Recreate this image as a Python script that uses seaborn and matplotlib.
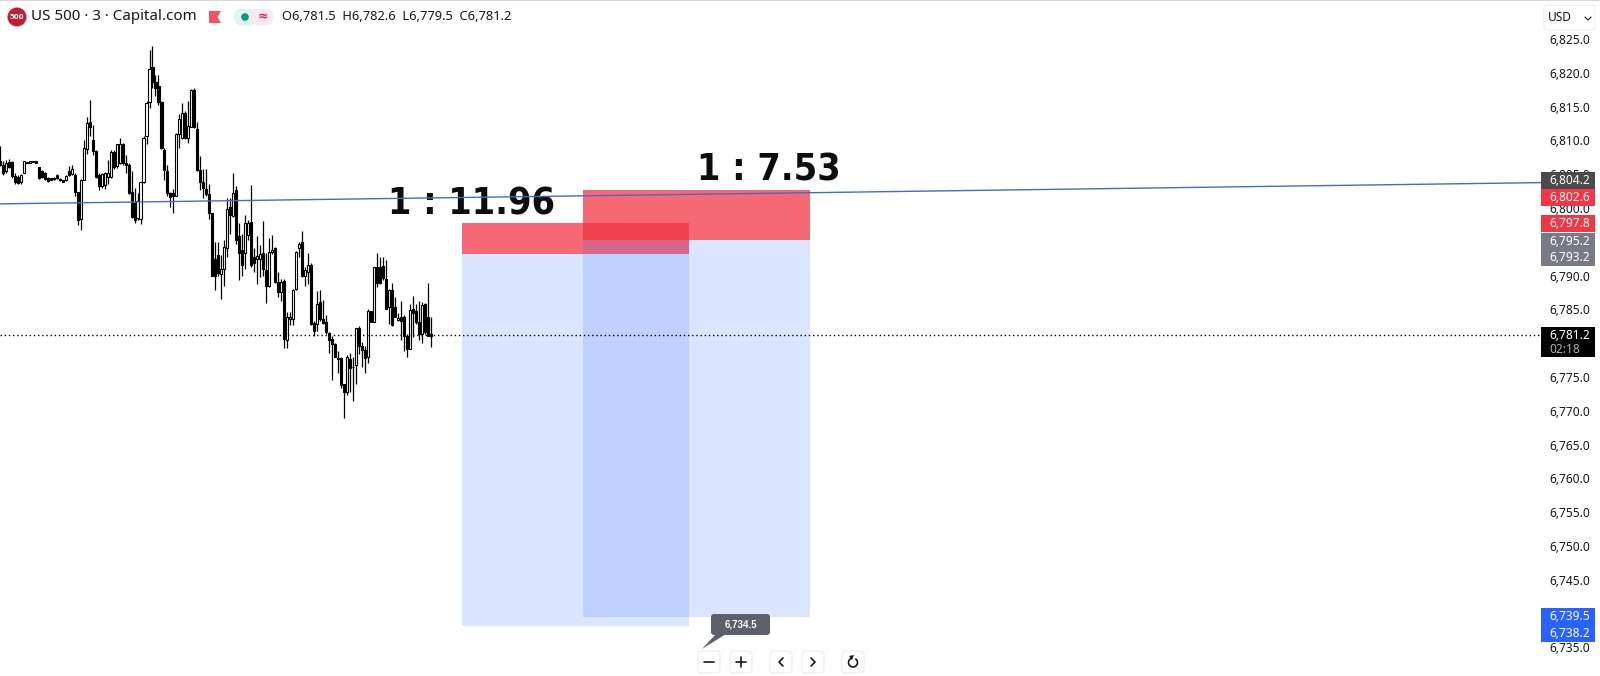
import matplotlib
matplotlib.use("Agg")
import matplotlib.pyplot as plt
import numpy as np
import pandas as pd
import seaborn as sns
from matplotlib.patches import Rectangle, FancyBboxPatch, Circle, Polygon
from matplotlib.transforms import blended_transform_factory

# candles
opens = [6806.9, 6806.4, 6805.4, 6806.8, 6806.8, 6804.7, 6804.6, 6803.8, 6805.2, 6806.6,
         6806.7, 6806.8, 6807.0, 6806.1, 6805.4, 6805.2, 6804.4, 6804.4, 6804.5, 6804.9,
         6804.3, 6804.2, 6804.1, 6805.5, 6805.0, 6804.8, 6802.3, 6798.3, 6804.2, 6808.7,
         6812.7, 6810.1, 6808.4, 6804.8, 6803.3, 6803.4, 6804.6, 6804.6, 6808.3, 6806.2,
         6806.7, 6809.5, 6806.6, 6806.4, 6802.4, 6800.7, 6798.5, 6798.3, 6803.8, 6810.6,
         6815.7, 6820.8, 6818.6, 6818.0, 6815.7, 6808.5, 6805.5, 6802.2, 6802.2, 6801.8,
         6810.9, 6810.4, 6814.1, 6810.4, 6812.0, 6817.5, 6811.7, 6805.6, 6803.9, 6802.8,
         6802.1, 6799.2, 6792.5, 6793.1, 6790.3, 6790.9, 6794.0, 6800.2, 6798.8, 6802.6,
         6795.8, 6793.8, 6793.3, 6796.0, 6797.9, 6792.8, 6792.4, 6792.4, 6793.3, 6790.8,
         6788.5, 6793.5, 6794.0, 6789.1, 6787.6, 6789.2, 6780.5, 6783.6, 6783.6, 6788.0,
         6794.0, 6794.9, 6790.0, 6790.5, 6791.6, 6783.0, 6782.8, 6786.1, 6783.6, 6783.1,
         6781.5, 6780.6, 6779.9, 6777.8, 6777.8, 6773.9, 6772.8, 6777.6, 6776.4, 6776.8,
         6782.2, 6779.6, 6779.0, 6777.9, 6784.7, 6783.2, 6791.3, 6791.3, 6791.4, 6789.5,
         6785.3, 6787.8, 6785.3, 6783.4, 6783.8, 6783.9, 6781.1, 6779.2, 6785.1, 6784.8,
         6783.2, 6781.4, 6785.8, 6783.9, 6781.3]
highs = [6809.1, 6806.9, 6807.1, 6807.2, 6806.9, 6805.1, 6804.8, 6805.0, 6807.0, 6806.8,
         6806.9, 6807.0, 6807.0, 6806.1, 6805.6, 6805.3, 6804.6, 6804.5, 6804.6, 6805.0,
         6804.4, 6804.2, 6804.8, 6806.2, 6806.4, 6805.1, 6802.4, 6804.3, 6810.1, 6813.4,
         6815.9, 6812.3, 6808.5, 6805.1, 6805.2, 6805.3, 6807.1, 6808.5, 6808.6, 6809.4,
         6810.4, 6809.6, 6807.9, 6806.6, 6805.4, 6802.9, 6802.2, 6803.9, 6810.6, 6815.8,
         6823.3, 6824.0, 6819.6, 6819.7, 6815.8, 6808.9, 6806.4, 6802.4, 6802.8, 6811.1,
         6813.9, 6815.5, 6814.3, 6815.8, 6817.6, 6817.8, 6812.7, 6807.7, 6805.7, 6805.7,
         6803.6, 6799.3, 6795.0, 6795.0, 6793.0, 6795.2, 6801.4, 6801.4, 6805.2, 6803.3,
         6797.7, 6796.2, 6799.0, 6798.2, 6803.4, 6794.0, 6795.8, 6794.5, 6798.1, 6793.3,
         6795.6, 6796.0, 6794.2, 6790.5, 6789.5, 6789.5, 6784.6, 6784.6, 6788.0, 6793.6,
         6795.0, 6796.6, 6791.3, 6793.3, 6791.8, 6783.3, 6787.7, 6787.8, 6786.4, 6784.2,
         6781.6, 6781.1, 6780.0, 6778.9, 6777.9, 6774.0, 6778.2, 6778.5, 6777.9, 6782.3,
         6782.6, 6780.1, 6779.6, 6785.1, 6784.8, 6791.3, 6793.4, 6792.8, 6792.8, 6792.3,
         6788.0, 6788.9, 6786.8, 6784.4, 6786.3, 6784.2, 6781.3, 6785.8, 6786.9, 6785.8,
         6786.3, 6786.1, 6785.9, 6788.9, 6783.8]
lows = [6806.2, 6804.8, 6805.2, 6805.9, 6804.4, 6803.6, 6803.6, 6803.6, 6805.1, 6806.6,
        6806.7, 6806.8, 6806.6, 6804.3, 6804.4, 6804.2, 6803.9, 6804.1, 6804.2, 6804.3,
        6804.0, 6803.8, 6804.0, 6804.7, 6804.9, 6801.7, 6797.5, 6796.7, 6804.1, 6808.0,
        6810.6, 6807.9, 6804.4, 6802.7, 6802.9, 6802.8, 6803.6, 6804.4, 6805.8, 6805.9,
        6806.5, 6806.4, 6805.1, 6802.1, 6798.5, 6797.8, 6798.2, 6797.6, 6803.7, 6809.4,
        6814.8, 6817.8, 6816.6, 6815.3, 6808.7, 6804.2, 6801.7, 6800.2, 6799.3, 6801.7,
        6808.9, 6810.2, 6810.2, 6809.6, 6811.9, 6811.8, 6805.5, 6802.7, 6801.5, 6801.7,
        6798.3, 6789.9, 6787.8, 6790.0, 6786.6, 6788.5, 6792.8, 6796.2, 6798.7, 6794.7,
        6789.3, 6790.0, 6791.0, 6795.2, 6791.3, 6790.5, 6788.8, 6789.8, 6790.0, 6785.9,
        6788.3, 6793.2, 6788.9, 6786.8, 6786.2, 6779.3, 6779.3, 6782.7, 6782.7, 6787.9,
        6792.8, 6789.8, 6788.5, 6788.7, 6782.7, 6781.1, 6781.8, 6783.3, 6782.8, 6781.3,
        6778.5, 6774.5, 6777.9, 6775.6, 6773.4, 6768.9, 6772.3, 6772.7, 6771.5, 6773.9,
        6778.4, 6776.4, 6775.6, 6777.1, 6783.1, 6783.1, 6788.3, 6788.8, 6789.4, 6785.0,
        6782.8, 6782.6, 6783.8, 6783.3, 6780.4, 6778.9, 6777.9, 6779.1, 6780.9, 6782.8,
        6780.4, 6780.0, 6781.3, 6781.1, 6779.4]
closes = [6806.4, 6805.1, 6806.7, 6806.1, 6804.7, 6803.8, 6803.7, 6804.9, 6806.9, 6806.8,
          6806.9, 6806.9, 6806.6, 6804.4, 6804.6, 6804.3, 6804.0, 6804.2, 6804.3, 6804.4,
          6804.1, 6803.9, 6804.7, 6804.8, 6805.8, 6802.4, 6798.2, 6804.2, 6808.9, 6812.6,
          6812.0, 6808.4, 6804.6, 6803.3, 6805.0, 6805.2, 6805.2, 6808.3, 6806.1, 6809.4,
          6809.4, 6806.7, 6806.3, 6802.2, 6798.6, 6798.2, 6801.0, 6803.8, 6810.4, 6815.5,
          6820.5, 6818.7, 6817.8, 6815.6, 6808.9, 6805.6, 6802.2, 6801.6, 6801.8, 6811.0,
          6813.2, 6814.1, 6810.4, 6812.1, 6817.5, 6811.9, 6805.6, 6803.8, 6802.9, 6802.1,
          6799.3, 6790.0, 6790.0, 6790.4, 6791.0, 6794.2, 6799.9, 6799.0, 6802.2, 6795.3,
          6793.4, 6791.5, 6797.7, 6797.7, 6791.5, 6791.8, 6792.9, 6793.2, 6791.0, 6788.5,
          6793.5, 6793.8, 6789.0, 6787.6, 6789.1, 6780.6, 6783.9, 6783.9, 6787.9, 6793.5,
          6794.6, 6789.9, 6790.8, 6791.5, 6782.9, 6781.8, 6785.8, 6783.6, 6783.0, 6781.6,
          6780.4, 6779.9, 6778.0, 6777.7, 6773.8, 6772.8, 6778.0, 6776.3, 6776.5, 6782.2,
          6779.6, 6779.0, 6777.8, 6784.8, 6783.2, 6791.2, 6788.9, 6788.9, 6789.7, 6785.1,
          6787.8, 6782.7, 6783.9, 6783.7, 6783.3, 6781.1, 6779.2, 6784.9, 6784.4, 6783.2,
          6781.4, 6785.7, 6781.6, 6781.1, 6781.1]

price_ticks = [6730, 6735, 6740, 6745, 6750, 6755, 6760, 6765, 6770, 6775, 6780, 6785,
               6790, 6795, 6800, 6805, 6810, 6815, 6820, 6825]
trend_x = [0, 516]
trend_y = [6800.6, 6803.75]
last_price = 6781.2

# the two short positions: bar start, bar end, stop, entry, target, ratio label
pos_start = [154.4, 194.9]
pos_end = [230.4, 270.9]
pos_stop = [6797.8, 6802.6]
pos_entry = [6793.2, 6795.2]
pos_target = [6738.2, 6739.5]
pos_ratio = ["1 : 11.96", "1 : 7.53"]
ratio_bar = [129.8, 233.1]
ratio_price = [6798.96, 6804.12]

tag_text = ["6,804.2", "6,802.6", "6,797.8", "6,795.2", "6,793.2", "6,739.5", "6,738.2"]
tag_price = [6804.1, 6801.6, 6797.7, 6795.1, 6792.6, 6739.6, 6737.1]
tag_color = ["#4a4a4a", "#f23645", "#f23645", "#787b86", "#787b86", "#2962ff", "#2962ff"]

W, H = 1600, 676
PLOT_W = 1542
sns.set_theme(style="white")
plt.rcParams["font.family"] = ["Noto Sans", "DejaVu Sans"]

fig = plt.figure(figsize=(W / 100, H / 100), dpi=100, facecolor="white")
ax = fig.add_axes([0, 0, PLOT_W / W, 1])

df = pd.DataFrame({"bar": np.arange(len(opens)), "o": opens, "h": highs, "l": lows, "c": closes})
df["top"] = df[["o", "c"]].max(axis=1)
df["bottom"] = df[["o", "c"]].min(axis=1)
df["size"] = df["top"] - df["bottom"]

ax.vlines(df["bar"], df["l"], df["h"], color="black", lw=0.9, zorder=2)
for up, face in [(True, "white"), (False, "black")]:
    part = df[(df["c"] >= df["o"]) == up]
    sns.barplot(data=part, x="bar", y="size", bottom=part["bottom"].values, native_scale=True,
                ax=ax, color=face, edgecolor="black", linewidth=0.8, width=0.7,
                saturation=1, errorbar=None, zorder=3)

# position boxes
for s, e, stop, entry, target in zip(pos_start, pos_end, pos_stop, pos_entry, pos_target):
    ax.add_patch(Rectangle((s, entry), e - s, stop - entry, fc="#f23645", ec="none", alpha=0.75, zorder=4))
    ax.add_patch(Rectangle((s, target), e - s, entry - target, fc="#2962ff", ec="none", alpha=0.16, zorder=4))

for x, p, label in zip(ratio_bar, ratio_price, pos_ratio):
    ax.text(x, p, label, fontsize=27, weight="bold", color="#0d0d0d", family="DejaVu Sans",
            stretch="condensed", ha="left", va="baseline", zorder=4.5)

sns.lineplot(x=trend_x, y=trend_y, ax=ax, color="#3d6fc4", lw=1, zorder=5)
ax.axhline(last_price, color="black", lw=1, ls=(0, (1, 2)), zorder=5)

ax.set_xticks([])
ax.set_xlabel("")
ax.set_ylabel("")
ax.yaxis.tick_right()
ax.set_yticks(price_ticks)
ax.set_yticklabels([f"{p:,.1f}" for p in price_ticks], fontsize=8.6, color="#131722")
ax.tick_params(axis="y", length=0, pad=5)
# limits last: set_yticks widens them to take in 6730
ax.set_xlim(0, PLOT_W / 2.99)
ax.set_ylim(6730.76, 6830.76)
sns.despine(ax=ax, left=True, right=True, top=True, bottom=True)

# price tags on the axis
trans = blended_transform_factory(ax.transAxes, ax.transData)
for txt, p, col in zip(tag_text, tag_price, tag_color):
    ax.add_patch(Rectangle((0.9995, p - 1.26), 54 / PLOT_W, 2.52, transform=trans, fc=col, ec="none",
                           clip_on=False, zorder=7))
    ax.text(1 + 7 / PLOT_W, p, txt, transform=trans, color="white", fontsize=8.6, va="center",
            ha="left", clip_on=False, zorder=8)
ax.add_patch(Rectangle((0.9995, 6777.9), 54 / PLOT_W, 4.5, transform=trans, fc="black", ec="none",
                       clip_on=False, zorder=7))
ax.text(1 + 7 / PLOT_W, 6781.2, "6,781.2", transform=trans, color="white", fontsize=8.6, va="center",
        clip_on=False, zorder=8)
ax.text(1 + 7 / PLOT_W, 6779.1, "02:18", transform=trans, color="#b0b0b0", fontsize=8.6, va="center",
        clip_on=False, zorder=8)

# header and toolbar, in pixel coordinates
ui = fig.add_axes([0, 0, 1, 1], facecolor="none")
ui.set_xlim(0, W)
ui.set_ylim(H, 0)
ui.axis("off")
ui.add_patch(Rectangle((0, 0), W, 1.2, fc="#d8d8d8", ec="none"))
ui.add_patch(Circle((17, 17), 9.5, fc="#c41e2e", ec="none"))
ui.text(17, 17.3, "500", color="white", fontsize=5, weight="bold", family="DejaVu Sans", ha="center", va="center")
ui.text(31, 17, "US 500 · 3 · Capital.com", color="#131722", fontsize=10.9, va="center")
ui.add_patch(Polygon([(209, 11), (221, 11), (217.5, 17), (221, 23), (209, 23)], fc="#f7525f", ec="none"))
ui.add_patch(FancyBboxPatch((234, 8.5), 24, 17, boxstyle="round,pad=0,rounding_size=8", fc="#e3f3ef", ec="none"))
ui.add_patch(FancyBboxPatch((252, 8.5), 21, 17, boxstyle="round,pad=0,rounding_size=8", fc="#fde8ec", ec="none"))
ui.add_patch(Circle((245, 17), 3.8, fc="#089981", ec="none"))
ui.text(263, 16.5, "≈", color="#e91e63", fontsize=9, ha="center", va="center", weight="bold", family="DejaVu Sans")
ui.text(282, 17, "O6,781.5  H6,782.6  L6,779.5  C6,781.2", color="#131722", fontsize=9.25, va="center")
ui.add_patch(FancyBboxPatch((1544, 5), 51, 25, boxstyle="round,pad=0,rounding_size=3", fc="white", ec="#eeeeee", lw=0.8))
ui.text(1548, 17.5, "USD", color="#131722", fontsize=8.6, va="center")
ui.plot([1585, 1588, 1591], [17, 20, 17], color="#131722", lw=0.8)

# crosshair tooltip
ui.add_patch(Polygon([(702, 649), (716, 634), (726, 634)], fc="#5d606b", ec="none"))
ui.add_patch(FancyBboxPatch((711, 614), 59, 21, boxstyle="round,pad=0,rounding_size=3", fc="#5d606b", ec="none"))
ui.text(740.5, 624.5, "6,734.5", color="white", fontsize=7, weight="bold", family="Liberation Sans",
        ha="center", va="center")

for cx in [709, 741, 781, 813, 853]:
    ui.add_patch(FancyBboxPatch((cx - 11, 651), 22, 22, boxstyle="round,pad=0,rounding_size=3",
                                fc="white", ec="#eeeeee", lw=0.8))
ui.plot([704, 714], [662, 662], color="#131722", lw=1.2)
ui.plot([736, 746], [662, 662], color="#131722", lw=1.2)
ui.plot([741, 741], [657, 667], color="#131722", lw=1.2)
ui.plot([783, 779, 783], [658, 662, 666], color="#131722", lw=1.2)
ui.plot([811, 815, 811], [658, 662, 666], color="#131722", lw=1.2)
ang = np.linspace(-0.9, 4.4, 30)
ui.plot(853 + 4.5 * np.cos(ang), 662.5 + 4.5 * np.sin(ang), color="#131722", lw=1.2)
ui.add_patch(Polygon([(849, 656), (854, 655), (852, 660)], fc="#131722", ec="none"))

fig.savefig("out.png", dpi=100)
